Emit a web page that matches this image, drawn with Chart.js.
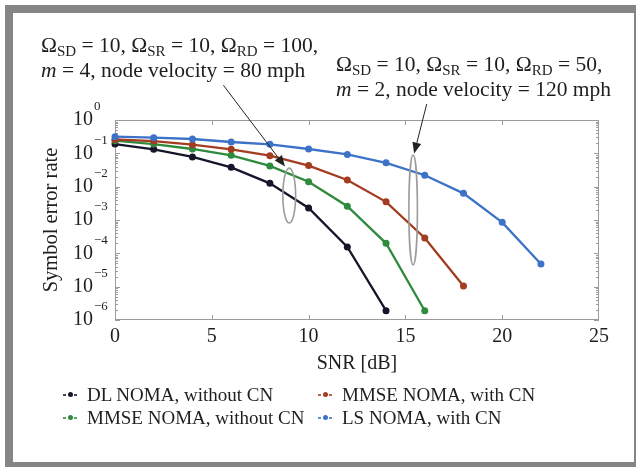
<!DOCTYPE html>
<html><head><meta charset="utf-8">
<script src="https://cdn.jsdelivr.net/npm/chart.js@4.4.1/dist/chart.umd.min.js"></script>
<style>
html,body{margin:0;padding:0;width:636px;height:467px;overflow:hidden;background:#fff;font-family:"Liberation Serif","Times New Roman",serif;color:#1e1e1e}
#frame{position:absolute;left:5px;top:5px;width:621px;height:449px;border:8px solid #858585;}
#chart{position:absolute;left:0;top:0;}
.note{position:absolute;white-space:nowrap;font-size:21.5px;line-height:25px;}
.note sub{font-size:15px;vertical-align:-4px;line-height:0;}
.note i{font-style:italic;}
#legend{position:absolute;left:63px;top:383px;font-size:19px;line-height:23px;}
.lrow{position:relative;height:23px;white-space:nowrap;}
.litem{position:absolute;top:0;}
.mk{display:inline-block;position:relative;width:14px;height:23px;vertical-align:top;margin-right:10px;}
.mk .d{position:absolute;top:11px;height:1.5px;width:3px;opacity:0.8;}
.mk .c{position:absolute;top:9px;left:4.5px;width:5px;height:5px;border-radius:50%;}
</style>
</head><body>
<div id="frame"></div>
<canvas id="chart" width="636" height="467"></canvas>
<div class="note" style="left:41px;top:33px;">Ω<sub>SD</sub> = 10, Ω<sub>SR</sub> = 10, Ω<sub>RD</sub> = 100,<br><i>m</i> = 4, node velocity = 80 mph</div>
<div class="note" style="left:336px;top:52px;">Ω<sub>SD</sub> = 10, Ω<sub>SR</sub> = 10, Ω<sub>RD</sub> = 50,<br><i>m</i> = 2, node velocity = 120 mph</div>
<div id="legend"></div>
<script>
// ---- data ----
const snr = [0, 2, 4, 6, 8, 10, 12, 14, 16, 18, 20, 22];
const dlNomaWithoutCN   = [0.19, 0.132, 0.078, 0.038, 0.0126, 0.0023, 1.55e-4, 1.9e-6];
const mmseNomaWithoutCN = [0.24, 0.19, 0.135, 0.087, 0.042, 0.014, 0.0026, 2.0e-4, 1.9e-6];
const mmseNomaWithCN    = [0.26, 0.234, 0.182, 0.132, 0.085, 0.043, 0.0158, 0.0035, 2.9e-4, 1.05e-5];
const lsNomaWithCN      = [0.316, 0.295, 0.269, 0.219, 0.187, 0.135, 0.093, 0.052, 0.022, 0.0063, 8.5e-4, 4.8e-5];
const seriesNames = ["DL NOMA, without CN", "MMSE NOMA, with CN", "MMSE NOMA, without CN", "LS NOMA, with CN"];
const xTicks = [0, 5, 10, 15, 20, 25];
const yTickExponents = [-6, -5, -4, -3, -2, -1, 0];

// ---- styling ----
const colors = {
  "DL NOMA, without CN": "#16162a",
  "MMSE NOMA, with CN": "#a43c22",
  "MMSE NOMA, without CN": "#2e8a3c",
  "LS NOMA, with CN": "#3c72c8"
};
const seriesValues = {
  "DL NOMA, without CN": dlNomaWithoutCN,
  "MMSE NOMA, with CN": mmseNomaWithCN,
  "MMSE NOMA, without CN": mmseNomaWithoutCN,
  "LS NOMA, with CN": lsNomaWithCN
};
const drawOrder = ["LS NOMA, with CN", "MMSE NOMA, with CN", "MMSE NOMA, without CN", "DL NOMA, without CN"];

// annotations (in data units)
const ellipses = [
  {x: 9.0, yTop: 0.036, yBottom: 8.1e-4, halfW: 0.33},
  {x: 15.4, yTop: 0.089, yBottom: 4.5e-5, halfW: 0.22}
];
const arrows = [
  {from: {x: 5.6, y: 11}, to: {x: 8.78, y: 0.04}},
  {from: {x: 16.1, y: 3.0}, to: {x: 15.45, y: 0.099}}
];

const FONT = "'Liberation Serif','Times New Roman',serif";
const TXT = "#1e1e1e";

const datasets = drawOrder.map(name => ({
  label: name,
  data: seriesValues[name].map((v, i) => ({x: snr[i], y: v})),
  borderColor: colors[name],
  backgroundColor: colors[name],
  borderWidth: 2.3,
  pointRadius: 3.5,
  pointHoverRadius: 3.5,
  pointBorderWidth: 0,
  tension: 0,
  clip: false
}));

const framePlugin = {
  id: "frameTicks",
  beforeDatasetsDraw(chart) {
    const {ctx, chartArea: a, scales: {x, y}} = chart;
    ctx.save();
    ctx.strokeStyle = "#9a9a9a";
    ctx.lineWidth = 1;
    ctx.strokeRect(a.left + 0.5, a.top + 0.5, a.right - a.left - 1, a.bottom - a.top - 1);
    ctx.beginPath();
    xTicks.slice(1, -1).forEach(v => {
      const px = Math.round(x.getPixelForValue(v)) + 0.5;
      ctx.moveTo(px, a.bottom); ctx.lineTo(px, a.bottom - 5);
      ctx.moveTo(px, a.top); ctx.lineTo(px, a.top + 5);
    });
    for (let e = -6; e < 0; e++) {
      for (let m = 1; m <= 9; m++) {
        const v = m * Math.pow(10, e);
        const py = Math.round(y.getPixelForValue(v)) + 0.5;
        const len = m === 1 ? 5 : 3;
        ctx.moveTo(a.left, py); ctx.lineTo(a.left + len, py);
        ctx.moveTo(a.right, py); ctx.lineTo(a.right - len, py);
      }
    }
    ctx.stroke();
    // exponents of the y tick labels ("10" is drawn by the axis)
    ctx.fillStyle = TXT;
    ctx.font = "13px " + FONT;
    ctx.textAlign = "left";
    ctx.textBaseline = "middle";
    y.ticks.forEach(t => {
      const e = Math.round(Math.log10(t.value));
      const py = y.getPixelForValue(t.value);
      ctx.fillText(e < 0 ? "\u2212" + (-e) : String(e), a.left - 21, py - 13);
    });
    ctx.restore();
  },
  afterDatasetsDraw(chart) {
    const {ctx, scales: {x, y}} = chart;
    ctx.save();
    ctx.strokeStyle = "#9c9c9c";
    ctx.lineWidth = 1.6;
    ellipses.forEach(el => {
      const cx = x.getPixelForValue(el.x);
      const t = y.getPixelForValue(el.yTop), b = y.getPixelForValue(el.yBottom);
      const rx = x.getPixelForValue(el.x + el.halfW) - cx;
      ctx.beginPath();
      ctx.ellipse(cx, (t + b) / 2, rx, (b - t) / 2, 0, 0, Math.PI * 2);
      ctx.stroke();
    });
    ctx.strokeStyle = "#222";
    ctx.fillStyle = "#222";
    ctx.lineWidth = 1;
    arrows.forEach(ar => {
      const x0 = x.getPixelForValue(ar.from.x), y0 = y.getPixelForValue(ar.from.y);
      const x1 = x.getPixelForValue(ar.to.x), y1 = y.getPixelForValue(ar.to.y);
      const ang = Math.atan2(y1 - y0, x1 - x0);
      const L = 11, W = 4.5;
      const bx = x1 - L * Math.cos(ang), by = y1 - L * Math.sin(ang);
      ctx.beginPath(); ctx.moveTo(x0, y0); ctx.lineTo(bx, by); ctx.stroke();
      ctx.beginPath();
      ctx.moveTo(x1, y1);
      ctx.lineTo(bx + W * Math.sin(ang), by - W * Math.cos(ang));
      ctx.lineTo(bx - W * Math.sin(ang), by + W * Math.cos(ang));
      ctx.closePath(); ctx.fill();
    });
    ctx.restore();
  }
};

new Chart(document.getElementById("chart"), {
  type: "line",
  data: {datasets},
  options: {
    responsive: false,
    animation: false,
    events: [],
    layout: {padding: {left: 35, right: 37, top: 120, bottom: 91}},
    plugins: {legend: {display: false}, tooltip: {enabled: false}},
    scales: {
      x: {
        type: "linear", min: 0, max: 25,
        afterBuildTicks: s => { s.ticks = xTicks.map(v => ({value: v})); },
        afterFit: s => { s.height = 56; },
        grid: {display: false, drawTicks: false},
        border: {display: false},
        ticks: {font: {family: FONT, size: 20}, color: TXT, padding: 5, maxRotation: 0},
        title: {display: true, text: "SNR [dB]", font: {family: FONT, size: 20}, color: TXT, padding: {top: 0, bottom: 0}}
      },
      y: {
        type: "logarithmic", min: 1e-6, max: 1,
        afterBuildTicks: s => { s.ticks = yTickExponents.map(e => ({value: Math.pow(10, e)})); },
        afterFit: s => { s.width = 80; },
        grid: {display: false, drawTicks: false},
        border: {display: false},
        ticks: {
          font: {family: FONT, size: 20}, color: TXT, padding: 22,
          callback: () => "10"
        },
        title: {display: true, text: "Symbol error rate", font: {family: FONT, size: 20.5}, color: TXT, padding: {top: 4, bottom: 0}}
      }
    }
  },
  plugins: [framePlugin]
});

// legend built from the series
const legendLayout = [["DL NOMA, without CN", "MMSE NOMA, with CN"], ["MMSE NOMA, without CN", "LS NOMA, with CN"]];
const lg = document.getElementById("legend");
legendLayout.forEach(row => {
  const r = document.createElement("div");
  r.className = "lrow";
  row.forEach((name, ci) => {
    const it = document.createElement("div");
    it.className = "litem";
    it.style.left = (ci * 255) + "px";
    const c = colors[name];
    it.innerHTML = '<span class="mk"><span class="d" style="left:0;background:' + c + '"></span><span class="c" style="background:' + c + '"></span><span class="d" style="left:11px;background:' + c + '"></span></span>' + name;
    r.appendChild(it);
  });
  lg.appendChild(r);
});
</script>
</body></html>
